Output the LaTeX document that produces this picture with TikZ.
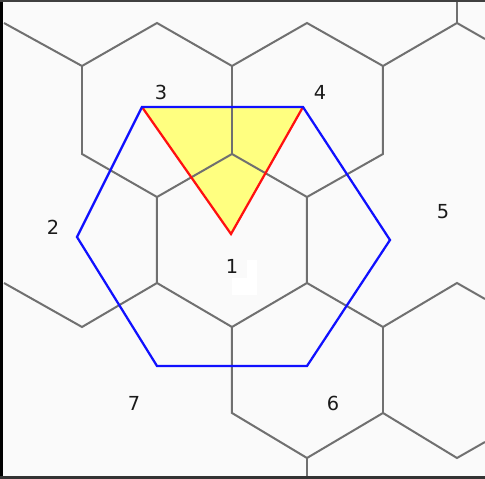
\documentclass[tikz,border=0pt]{standalone}
\usepackage{fontspec}
\setmainfont{DejaVu Sans}
\usepackage{xcolor}
\usepackage{tikz}
\usetikzlibrary{positioning}
\definecolor{paper}{HTML}{FAFAFA}
\definecolor{cellgray}{HTML}{707070}
\definecolor{hexblue}{HTML}{1010FF}
\definecolor{trired}{HTML}{FF1010}
\definecolor{triyellow}{HTML}{FFFF80}
\definecolor{numcol}{HTML}{1A1A1A}
\tikzstyle{cell}=[draw=cellgray,line width=0.04cm,line join=miter]
\tikzstyle{ring}=[draw=hexblue,line width=0.045cm,line join=miter]
\tikzstyle{tri}=[draw=trired,line width=0.045cm,line join=miter]
\tikzstyle{lbl}=[inner sep=0pt,text=numcol,font=\fontsize{11}{13}\selectfont]

\begin{document}
\begin{tikzpicture}[x=0.02cm,y=-0.02cm]
  \useasboundingbox (0,0) rectangle (485,479);
  \fill[paper] (0,0) rectangle (485,479);
  \fill[white] (247,260) rectangle (257,278);
  \fill[white] (232,278) rectangle (257,295);
  % neighbour ring corners
  \coordinate (p3) at (142,107);
  \coordinate (p4) at (303,107);
  \coordinate (p5) at (390,240);
  \coordinate (p6) at (307,366);
  \coordinate (p7) at (157,366);
  \coordinate (p2) at (77,237);
  \coordinate (p1) at (231,234);
  \fill[triyellow] (p3) -- (p4) -- (p1) -- cycle;
  % cell borders
  \draw[cell] (4,23) -- (82,66) -- (157,23) -- (232,66) -- (307,23) -- (383,66) -- (457,23) -- (485,39);
  \draw[cell] (457,23) -- (457,0);
  \draw[cell] (82,66) -- (82,154) -- (157,197) -- (232,154) -- (307,197) -- (383,154) -- (383,66);
  \draw[cell] (232,66) -- (232,154);
  \draw[cell] (157,197) -- (157,283) -- (232,327) -- (307,283) -- (307,197);
  \draw[cell] (4,283) -- (82,327) -- (157,283);
  \draw[cell] (307,283) -- (383,327) -- (457,283) -- (485,299);
  \draw[cell] (232,327) -- (232,413) -- (307,458) -- (383,413) -- (457,458) -- (485,442);
  \draw[cell] (383,327) -- (383,413);
  \draw[cell] (307,458) -- (307,477);
  % triangle and ring
  \draw[tri] (p4) -- (p1) -- (p3);
  \draw[ring] (p3) -- (p4) -- (p5) -- (p6) -- (p7) -- (p2) -- cycle;
  \foreach \n/\x/\y in {1/232/266, 2/53/227, 3/161/92, 4/320/92, 5/443/212, 6/333/403, 7/134/403} {
    \node[lbl] (c\n) at (\x,\y) {\n};
  }
  % frame
  \fill[black] (0,0) rectangle (3,479);
  \fill[black!75] (0,0) rectangle (485,2);
  \fill[black!80] (0,476) rectangle (485,479);
\end{tikzpicture}
\end{document}
